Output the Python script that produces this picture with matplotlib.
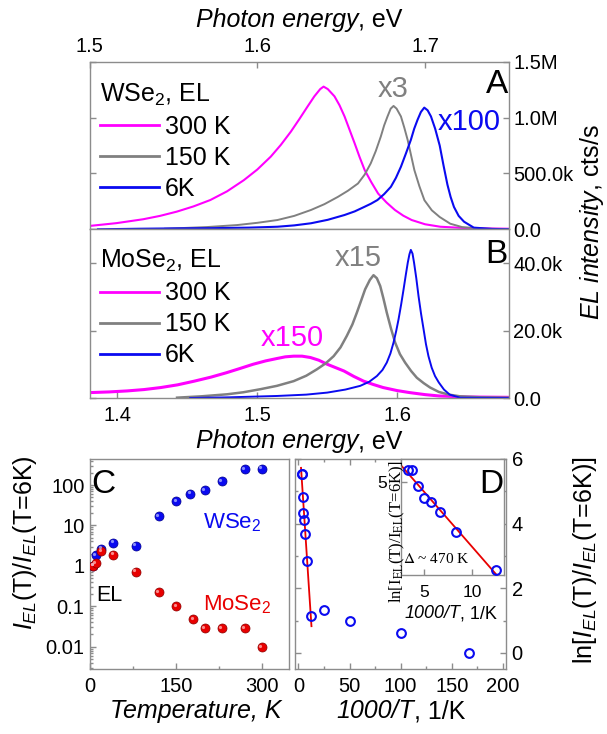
import matplotlib
matplotlib.use("Agg")
import matplotlib.pyplot as plt
import matplotlib.ticker as mticker
import matplotlib.transforms as mtransforms
import numpy as np

plt.rcParams['font.family'] = ['Liberation Sans', 'DejaVu Sans']
plt.rcParams['mathtext.fontset'] = 'custom'
plt.rcParams['mathtext.rm'] = 'Liberation Sans'
plt.rcParams['mathtext.it'] = 'Liberation Sans:italic'
plt.rcParams['mathtext.bf'] = 'Liberation Sans:bold'

# ---- panel A: WSe2 EL spectra, as displayed (units of 1e6 cts/s) ----
wse2_300_E = [1.500, 1.516, 1.532, 1.542, 1.552, 1.562, 1.572, 1.582, 1.592, 1.600,
              1.608, 1.614, 1.620, 1.625, 1.630, 1.634, 1.6375, 1.6395, 1.642, 1.646,
              1.649, 1.652, 1.655, 1.658, 1.661, 1.664, 1.668, 1.672, 1.677, 1.682,
              1.687, 1.692, 1.700, 1.709, 1.725, 1.750]
wse2_300_I = [0.030, 0.055, 0.090, 0.120, 0.158, 0.205, 0.262, 0.340, 0.440, 0.535,
              0.650, 0.755, 0.874, 0.985, 1.100, 1.190, 1.255, 1.277, 1.255, 1.190,
              1.110, 1.010, 0.890, 0.770, 0.645, 0.530, 0.420, 0.320, 0.240, 0.173,
              0.122, 0.083, 0.045, 0.023, 0.010, 0.005]
wse2_150_E = [1.545, 1.570, 1.588, 1.600, 1.612, 1.622, 1.632, 1.640, 1.648, 1.654,
              1.660, 1.664, 1.6676, 1.6706, 1.6736, 1.6756, 1.6776, 1.6795, 1.6812,
              1.683, 1.6856, 1.6876, 1.6896, 1.6916, 1.6936, 1.6966, 1.6996, 1.704,
              1.7087, 1.715, 1.722, 1.735, 1.750]
wse2_150_I = [0.005, 0.020, 0.038, 0.058, 0.083, 0.120, 0.173, 0.225, 0.290, 0.345,
              0.410, 0.490, 0.590, 0.700, 0.830, 0.930, 1.010, 1.080, 1.104,
              1.080, 1.010, 0.910, 0.800, 0.665, 0.530, 0.385, 0.260, 0.170,
              0.110, 0.050, 0.020, 0.005, 0.002]
wse2_6_E = [1.505, 1.530, 1.550, 1.572, 1.595, 1.612, 1.622, 1.632, 1.642, 1.652,
            1.658, 1.6637, 1.6676, 1.6716, 1.6756, 1.6796, 1.6826, 1.6856, 1.6886,
            1.6915, 1.6935, 1.6955, 1.6975, 1.6995, 1.7015, 1.7035, 1.7060, 1.7087,
            1.7110, 1.7133, 1.7152, 1.7172, 1.7200, 1.7232, 1.729, 1.740, 1.750]
wse2_6_I = [0.000, 0.005, 0.008, 0.010, 0.015, 0.023, 0.035, 0.054, 0.085, 0.128,
            0.160, 0.200, 0.228, 0.262, 0.315, 0.380, 0.460, 0.560, 0.680,
            0.800, 0.900, 0.980, 1.050, 1.089, 1.065, 1.010, 0.900, 0.750,
            0.570, 0.400, 0.290, 0.200, 0.120, 0.068, 0.015, 0.003, 0.000]

# ---- panel B: MoSe2 EL spectra, as displayed (units of 1e3 cts/s) ----
mose2_300_E = [1.380, 1.394, 1.407, 1.419, 1.431, 1.443, 1.455, 1.467, 1.478, 1.488,
               1.497, 1.506, 1.514, 1.520, 1.526, 1.532, 1.538, 1.544, 1.550, 1.556,
               1.562, 1.569, 1.576, 1.583, 1.590, 1.600, 1.609, 1.620, 1.630, 1.650,
               1.680]
mose2_300_I = [1.6, 1.8, 2.1, 2.5, 3.1, 3.9, 5.0, 6.2, 7.5, 8.8,
               10.0, 11.0, 11.7, 12.2, 12.4, 12.4, 12.0, 11.2, 10.0, 9.0,
               8.0, 6.4, 5.0, 4.0, 3.1, 2.2, 1.6, 1.0, 0.6, 0.3,
               0.2]
mose2_150_E = [1.4426, 1.460, 1.4784, 1.490, 1.5021, 1.514, 1.526, 1.535, 1.5426, 1.549,
               1.5546, 1.5595, 1.564, 1.568, 1.5712, 1.5742, 1.5771, 1.5805, 1.5831,
               1.5855, 1.5879, 1.5902, 1.5926, 1.5956, 1.5986, 1.602, 1.6057, 1.610,
               1.6141, 1.619, 1.6236, 1.6298, 1.637, 1.645, 1.660, 1.680]
mose2_150_I = [0.1, 0.5, 1.1, 1.7, 2.6, 3.6, 5.0, 6.6, 8.5, 10.3,
               12.4, 15.0, 18.4, 21.8, 25.3, 28.8, 32.2, 35.0, 36.4,
               35.5, 33.2, 29.5, 25.3, 20.6, 16.4, 13.0, 10.5, 8.0,
               6.0, 4.4, 3.1, 1.8, 1.0, 0.5, 0.2, 0.1]
mose2_6_E = [1.452, 1.480, 1.514, 1.535, 1.550, 1.563, 1.5736, 1.580, 1.5855, 1.5895,
             1.5926, 1.5952, 1.5974, 1.5993, 1.601, 1.6029, 1.6046, 1.6062, 1.6076,
             1.6088, 1.6098, 1.6110, 1.6121, 1.6137, 1.6153, 1.6171, 1.6189, 1.6206,
             1.6224, 1.6247, 1.6271, 1.6298, 1.6335, 1.6376, 1.645, 1.680]
mose2_6_I = [0.0, 0.2, 0.6, 1.0, 1.6, 2.5, 3.6, 4.8, 6.5, 8.3,
             10.5, 13.2, 16.4, 19.8, 23.3, 27.8, 32.2, 36.5, 40.1,
             42.6, 43.9, 42.8, 40.1, 35.5, 30.2, 25.0, 20.4, 16.0,
             12.4, 9.0, 6.5, 4.6, 2.5, 1.0, 0.1, 0.0]

legend_labels = ['300 K', '150 K', '6K']

# ---- panel C / D: integrated EL normalised to T = 6 K ----
temps_w = [6, 10, 20, 40, 80, 120, 150, 175, 200, 230, 270, 300]
ratio_w = [1.0, 1.86, 2.65, 3.75, 3.15, 17, 40, 61, 75, 123, 250, 255]
temps_mo = [6, 10, 20, 40, 80, 120, 150, 180, 200, 230, 270, 300]
ratio_mo = [1.0, 1.15, 2.3, 1.9, 0.72, 0.22, 0.10, 0.048, 0.029, 0.029, 0.029, 0.0097]
fit_tmin = 80                 # activation fit uses T >= 80 K
fit_span_main = [2.6, 12.8]   # 1000/T range of the fit line, main panel
fit_span_inset = [2.6, 13.3]  # and the inset

MAG = '#ff00ff'
GRAY = '#808080'
BLUE = '#0a0af0'
RED = '#e80000'
SPINE = '#8c8c8c'

W, H = 607, 734
fig = plt.figure(figsize=(W / 100, H / 100), dpi=100)


def box(l, t, r, b):
    return [l / W, 1 - b / H, (r - l) / W, (b - t) / H]


def ftext(x, y, s, **kw):
    return fig.text(x / W, 1 - y / H, s, **kw)


def mixed(x, y, parts, **kw):
    """centered text made of (string, style) pieces on one baseline"""
    r = fig.canvas.get_renderer()
    texts = [ftext(0, y, s, style=st, ha='left', va='baseline', **kw) for s, st in parts]
    widths = [t.get_window_extent(r).width for t in texts]
    x0 = x - sum(widths) / 2
    for t, w in zip(texts, widths):
        t.set_x(x0 / W)
        x0 += w


def style(ax, size=14.5):
    for s in ax.spines.values():
        s.set_color(SPINE)
        s.set_linewidth(1.0)
    ax.tick_params(which='both', direction='in', color=SPINE, labelcolor='black',
                   labelsize=size, length=4, width=1)
    ax.tick_params(which='minor', length=2.5)


def fmt_counts(v, pos):
    if v >= 1e6 - 1:
        return f"{v / 1e6:.1f}M"
    if v >= 1e3 - 1:
        return f"{v / 1e3:.1f}k"
    return "0.0"


def spectra_panel(ax, series, scale, title, widths, leg_y):
    for (E, I), lab, c, lw in zip(series, legend_labels, [MAG, GRAY, BLUE], widths):
        ax.plot(E, np.array(I) * scale, color=c, lw=lw, label=lab)
    style(ax)
    ax.tick_params(axis='y', left=True, right=True, labelleft=False, labelright=True, pad=3)
    ax.yaxis.set_major_formatter(mticker.FuncFormatter(fmt_counts))
    ax.xaxis.set_major_locator(mticker.MultipleLocator(0.1))
    ax.xaxis.set_major_formatter(mticker.FormatStrFormatter('%.1f'))
    leg = ax.legend(title=title, loc='upper left', bbox_to_anchor=(0.025, leg_y),
                    frameon=False, fontsize=18, title_fontsize=18, handlelength=2.35,
                    handletextpad=0.25, labelspacing=0.28, borderpad=0, borderaxespad=0,
                    alignment='left')
    for ln in leg.get_lines():
        ln.set_linewidth(2.0)


# ---------------- A ----------------
axA = fig.add_axes(box(89.5, 61.7, 509, 229.3))
spectra_panel(axA, [(wse2_300_E, wse2_300_I), (wse2_150_E, wse2_150_I), (wse2_6_E, wse2_6_I)],
              1e6, 'WSe$_2$, EL', [1.5, 1.4, 1.5], 0.883)
axA.set_xlim(1.5, 1.75)
axA.set_ylim(0, 1.5e6)
axA.yaxis.set_major_locator(mticker.MultipleLocator(5e5))
axA.tick_params(axis='x', bottom=False, top=True, labelbottom=False, labeltop=True, pad=4)

# ---------------- B ----------------
axB = fig.add_axes(box(89.5, 229.3, 509, 398))
spectra_panel(axB, [(mose2_300_E, mose2_300_I), (mose2_150_E, mose2_150_I), (mose2_6_E, mose2_6_I)],
              1e3, 'MoSe$_2$, EL', [2.2, 1.8, 1.4], 0.888)
axB.set_xlim(1.38, 1.68)
axB.set_ylim(0, 5e4)
axB.yaxis.set_major_locator(mticker.MultipleLocator(2e4))
axB.tick_params(axis='x', bottom=True, top=False, pad=6)

ftext(393, 96.7, 'x3', color=GRAY, fontsize=21, ha='center', va='baseline')
ftext(469, 130, 'x100', color=BLUE, fontsize=21, ha='center', va='baseline')
ftext(358, 265.7, 'x15', color=GRAY, fontsize=21, ha='center', va='baseline')
ftext(292.5, 346.3, 'x150', color=MAG, fontsize=21, ha='center', va='baseline')
ftext(508, 93.3, 'A', fontsize=24, ha='right', va='baseline')
ftext(508, 263.3, 'B', fontsize=24, ha='right', va='baseline')

mixed(299, 27, [('Photon energy', 'italic'), (', eV', 'normal')], fontsize=18)
mixed(299, 448, [('Photon energy', 'italic'), (', eV', 'normal')], fontsize=18)
ftext(592, 222, r'$EL\ intensity$, cts/s', fontsize=18, ha='center', va='center', rotation=90)

# ---------------- C ----------------
axC = fig.add_axes(box(90, 459, 289.3, 669))


def balls(ax, x, y, color, edge, light):
    ax.plot(x, y, 'o', ms=6.5, color=color, mec=edge, mew=0.5, zorder=3)
    hl = mtransforms.offset_copy(ax.transData, fig=fig, x=-1.0, y=1.0, units='points')
    ax.plot(x, y, 'o', ms=2.3, color=light, mew=0, alpha=0.8, transform=hl, zorder=4)


balls(axC, temps_w, ratio_w, BLUE, '#00008a', '#aab0ff')
balls(axC, temps_mo, ratio_mo, RED, '#8a0000', '#ffb0b0')
axC.set_yscale('log')
axC.set_xlim(0, 348)
axC.set_ylim(0.0028, 440)
style(axC)
axC.xaxis.set_major_locator(mticker.MultipleLocator(150))
axC.xaxis.set_minor_locator(mticker.MultipleLocator(75))
axC.yaxis.set_major_locator(mticker.LogLocator(base=10))
axC.yaxis.set_minor_locator(mticker.LogLocator(base=10, subs=np.arange(2, 10)))
axC.yaxis.set_major_formatter(mticker.FuncFormatter(lambda v, p: f"{v:g}"))
axC.yaxis.set_minor_formatter(mticker.NullFormatter())
axC.tick_params(axis='x', pad=6)
axC.tick_params(axis='y', pad=4)

ftext(91.7, 493.3, 'C', fontsize=24, ha='left', va='baseline')
ftext(203.3, 528.3, 'WSe$_2$', color=BLUE, fontsize=16, ha='left', va='baseline')
ftext(203.3, 610, 'MoSe$_2$', color=RED, fontsize=16, ha='left', va='baseline')
ftext(96.7, 600.7, 'EL', fontsize=15.5, ha='left', va='baseline')
ftext(25, 543, r'$I_{EL}$(T)/$I_{EL}$(T=6K)', fontsize=18, ha='center', va='center',
      rotation=90)
ftext(196, 718, 'Temperature, K', fontsize=18, style='italic', ha='center', va='baseline')

# ---------------- D ----------------
inv_t = 1000 / np.array(temps_w, dtype=float)
ln_w = np.log(np.array(ratio_w, dtype=float))
sel = np.array(temps_w) >= fit_tmin
slope, icpt = np.polyfit(inv_t[sel], ln_w[sel], 1)

axD = fig.add_axes(box(295.3, 459, 506, 669))
fx = np.array(fit_span_main)
axD.plot(fx, icpt + slope * fx, color=RED, lw=1.3, zorder=2)
axD.plot(inv_t, ln_w, 'o', mfc='none', mec=BLUE, ms=6.3, mew=1.5, zorder=3)
axD.set_xlim(-3, 203)
axD.set_ylim(-0.5, 6)
style(axD)
axD.xaxis.set_major_locator(mticker.MultipleLocator(50))
axD.xaxis.set_minor_locator(mticker.MultipleLocator(25))
axD.yaxis.set_major_locator(mticker.MultipleLocator(2))
axD.yaxis.set_minor_locator(mticker.MultipleLocator(1))
axD.tick_params(which='both', top=True, right=True, left=True)
axD.tick_params(axis='y', labelleft=False, labelright=True, pad=4)
axD.tick_params(axis='x', pad=6)

ftext(503.3, 493.3, 'D', fontsize=24, ha='right', va='baseline')
mixed(401, 718, [('1000/T', 'italic'), (', 1/K', 'normal')], fontsize=18)
ftext(585, 560, r'ln[$I_{EL}$(T)/$I_{EL}$(T=6K)]', fontsize=18, ha='center', va='center',
      rotation=90)

# inset
axI = fig.add_axes(box(401, 459, 504, 575))
fx = np.array(fit_span_inset)
axI.plot(fx, icpt + slope * fx, color=RED, lw=1.3, zorder=2)
axI.plot(inv_t, ln_w, 'o', mfc='none', mec=BLUE, ms=6.3, mew=1.5, zorder=3, clip_on=False)
axI.set_xlim(fit_span_inset)
axI.set_ylim(0.95, 6.0)
style(axI, size=12.5)
axI.xaxis.set_major_locator(mticker.MultipleLocator(5))
axI.yaxis.set_major_locator(mticker.MultipleLocator(5))
axI.tick_params(axis='x', pad=7)
axI.tick_params(axis='y', pad=10)

mixed(450.8, 618.3, [('1000/T', 'italic'), (', 1/K', 'normal')], fontsize=13)
ftext(397, 531, r'ln[I$_{\rm EL}$(T)/I$_{\rm EL}$(T=6K)]', fontsize=12, ha='center',
      va='center', rotation=90, family='Liberation Serif', math_fontfamily='stix')
ftext(403.3, 562.7, r'$\mathit{\Delta}$ ~ 470 K', fontsize=11, ha='left', va='baseline',
      family='Liberation Serif', math_fontfamily='stix')

fig.savefig('out.png', dpi=100)
